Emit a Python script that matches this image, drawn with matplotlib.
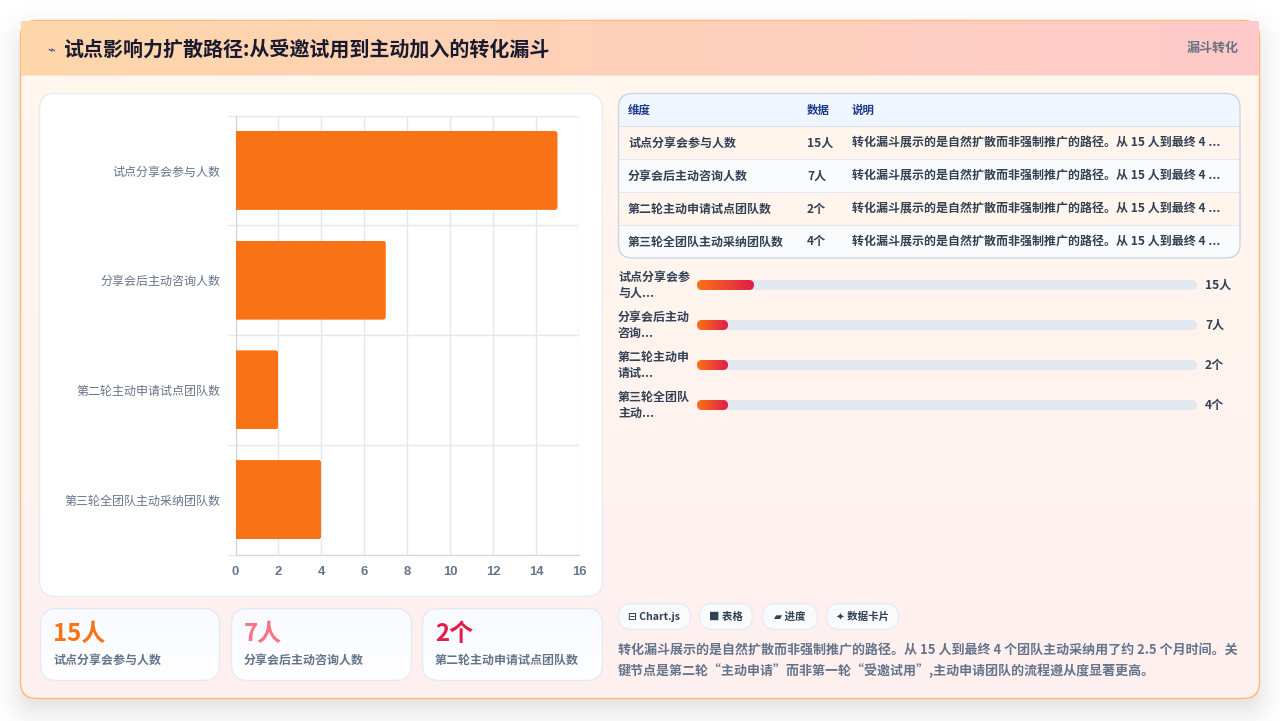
import numpy as np
import matplotlib
matplotlib.use('Agg')
import matplotlib.pyplot as plt
from matplotlib.colors import LinearSegmentedColormap
from matplotlib.patches import FancyBboxPatch, Rectangle

plt.rcParams['font.family'] = ['Noto Sans CJK SC', 'DejaVu Sans']

# Funnel data
categories = ['试点分享会参与人数', '分享会后主动咨询人数', '第二轮主动申请试点团队数', '第三轮全团队主动采纳团队数']
values = [15, 7, 2, 4]
units = ['人', '人', '个', '个']
progress_pct = [11.4, 6.2, 6.2, 6.2]
progress_labels = [('试点分享会参', '与人...'), ('分享会后主动', '咨询...'), ('第二轮主动申', '请试...'), ('第三轮全团队', '主动...')]
table_headers = ['维度', '数据', '说明']
table_note = '转化漏斗展示的是自然扩散而非强制推广的路径。从 15 人到最终 4 ...'
x_ticks = [0, 2, 4, 6, 8, 10, 12, 14, 16]
stat_colors = ['#f97316', '#fb7185', '#e11d48']
pills = ['⊟ Chart.js', '■ 表格', '▰ 进度', '✦ 数据卡片']
title = '试点影响力扩散路径:从受邀试用到主动加入的转化漏斗'
badge = '漏斗转化'
note_lines = ['转化漏斗展示的是自然扩散而非强制推广的路径。从 15 人到最终 4 个团队主动采纳用了约 2.5 个月时间。关',
              '键节点是第二轮“主动申请”而非第一轮“受邀试用”,主动申请团队的流程遵从度显著更高。']

W, H = 1280, 721
fig = plt.figure(figsize=(W / 100, H / 100), dpi=100, facecolor='white')


def px(size):
    # css pixels to points at dpi 100
    return size * 0.72


def ax_rect(x0, y0, x1, y1):
    return [x0 / W, 1 - y1 / H, (x1 - x0) / W, (y1 - y0) / H]


bg = fig.add_axes([0, 0, 1, 1], zorder=0)
bg.set_axis_off()


def round_box(x0, y0, x1, y1, r, face='none', edge='none', lw=1.0, z=2):
    box = FancyBboxPatch((x0, y0), x1 - x0, y1 - y0, boxstyle=f'round,pad=0,rounding_size={r}',
                         facecolor=face, edgecolor=edge, linewidth=lw, zorder=z)
    bg.add_patch(box)
    return box


def gradient(x0, y0, x1, y1, c0, c1, vertical=False, clip=None, z=2):
    cmap = LinearSegmentedColormap.from_list('g', [c0, c1])
    ramp = np.linspace(0, 1, 256)
    ramp = ramp.reshape(-1, 1) if vertical else ramp.reshape(1, -1)
    im = bg.imshow(ramp, cmap=cmap, extent=(x0, x1, y1, y0), aspect='auto', origin='upper', zorder=z)
    if clip is not None:
        im.set_clip_path(clip)
    return im


def label(x, y, s, size, color, weight='bold', ha='left', va='center', z=6):
    return bg.text(x, y, s, fontsize=px(size), color=color, fontweight=weight, ha=ha, va=va, zorder=z)


# Soft drop shadow under the card
yy, xx = np.mgrid[0:H, 0:W]
qx = np.abs(xx + 0.5 - 640) - (620 - 16)
qy = np.abs(yy + 0.5 - 371) - (339 - 16)
dist = np.hypot(np.maximum(qx, 0), np.maximum(qy, 0)) + np.minimum(np.maximum(qx, qy), 0) - 16
shade = np.clip(1 - (dist + 8) / 44, 0, 1) ** 2 * 0.10
rgba = np.zeros((H, W, 4))
rgba[..., 3] = shade
bg.imshow(rgba, extent=(0, W, H, 0), aspect='auto', zorder=1)

# Card body and header
card = round_box(20.5, 20.5, 1259.5, 698.5, 16, face='none', edge='none', z=2)
gradient(20, 20, 1260, 699, '#fff7ed', '#fff0f1', vertical=True, clip=card)
round_box(20.5, 20.5, 1259.5, 698.5, 16, edge='#fdba74', lw=1.0, z=3)
gradient(21, 21, 1259, 75, '#fed7aa', '#fecaca', z=4)
bg.add_patch(Rectangle((21, 75), 1238, 1, facecolor='#f5e3da', zorder=4))
label(47, 50, '⌁', 13, '#3f4a9a')
label(63, 49.5, title, 20, '#1a1a2e')
label(1239, 48, badge, 13, '#6b7280', ha='right')

# Chart panel
round_box(39.5, 93.5, 602.5, 596.5, 16, face='white', edge='#e8ecf2')

# Table panel
table_box = round_box(618, 93, 1240, 258, 14, face='#f8fafc', z=2)
row_top = [93, 126, 159, 192, 225]
row_bot = [126, 159, 192, 225, 258]
row_face = ['#eff6ff', '#fff5ec', '#f8fafc', '#fff5ec', '#f8fafc']
for top, bot, face in zip(row_top, row_bot, row_face):
    rect = Rectangle((618, top), 622, bot - top, facecolor=face, zorder=3)
    bg.add_patch(rect)
    rect.set_clip_path(table_box)
    if top > 93:
        line = Rectangle((618, top - 0.5), 622, 1, facecolor='#d5dfee' if top == 126 else '#e2e8f0', zorder=4)
        bg.add_patch(line)
round_box(618.5, 93.5, 1240, 258, 14, edge='#ccd5e3', lw=1.0, z=5)
col_x = [628, 807, 852]
for x, head in zip(col_x, table_headers):
    label(x, 110, head, 11.5, '#1e3a8a')
for i, (cat, val, unit) in enumerate(zip(categories, values, units)):
    y = 143 + 33 * i
    label(col_x[0], y, cat, 12, '#334155')
    label(col_x[1], y, f'{val}{unit}', 12, '#334155')
    label(col_x[2], y, table_note, 12, '#334155')

# Progress rows: label and value sit beside the track
for i, ((a, b), val, unit) in enumerate(zip(progress_labels, values, units)):
    y = 285 + 40 * i
    label(618, y - 7.5, a, 12, '#334155')
    label(618, y + 8.5, b, 12, '#334155')
    label(1205, y, f'{val}{unit}', 12, '#334155')

# Stat cards
stat_x = [(40, 220), (231, 412), (422, 603)]
for (x0, x1), cat, val, unit, color in zip(stat_x, categories, values, units, stat_colors):
    clip = round_box(x0 + 0.5, 608.5, x1 - 0.5, 680.5, 16, z=2)
    gradient(x0, 608, x1, 681, '#f8faff', '#ffffff', vertical=True, clip=clip)
    round_box(x0 + 0.5, 608.5, x1 - 0.5, 680.5, 16, edge='#e4e9f5', lw=1.0, z=3)
    label(x0 + 13, 634, f'{val}{unit}', 24, color)
    label(x0 + 13, 660.5, cat, 12, '#64748b')

# Tag pills
pill_x = [(618, 691), (699, 753), (762, 818), (826, 899)]
for (x0, x1), text in zip(pill_x, pills):
    round_box(x0 + 0.5, 603.5, x1 - 0.5, 629.5, 13, face='#f8fafc', edge='#e8ecf2')
    label((x0 + x1) / 2, 617, text, 10.5, '#334155', ha='center')

# Closing note
label(618, 651, note_lines[0], 13, '#64748b')
label(618, 671, note_lines[1], 13, '#64748b')

bg.set_xlim(0, W)
bg.set_ylim(H, 0)

# Horizontal funnel bars
ax = fig.add_axes(ax_rect(235.5, 115.5, 579, 554.5), zorder=2)
ax.patch.set_alpha(0)
y_pos = np.arange(len(categories))
bars = ax.barh(y_pos, values, height=0.72, color='#f97316', zorder=3)
ax.set_xlim(0, 16)
ax.set_ylim(3.5, -0.5)
ax.set_xticks(x_ticks)
ax.set_yticks(y_pos, categories)
ax.set_yticks(np.arange(-0.5, 4), minor=True)
ax.grid(True, which='major', axis='x', color='#e2e8f0', linewidth=1, zorder=0)
ax.grid(True, which='minor', axis='y', color='#e2e8f0', linewidth=1, zorder=0)
ax.set_axisbelow(True)
ax.tick_params(axis='y', which='major', length=0, pad=11, labelsize=px(12), labelcolor='#64748b')
ax.tick_params(axis='y', which='minor', length=6, width=1, color='#e2e8f0')
ax.tick_params(axis='x', length=0, pad=8)
for tick in ax.get_xticklabels():
    tick.set_fontfamily('Liberation Sans')
    tick.set_fontweight('bold')
    tick.set_fontsize(px(13))
    tick.set_color('#64748b')
for side in ['top', 'right']:
    ax.spines[side].set_visible(False)
for side in ['left', 'bottom']:
    ax.spines[side].set_color('#cbd5e1')

# Only the far end of each bar is rounded
unit_x = (579 - 235.5) / 16
unit_y = 439 / 4
for bar in bars:
    end = bar.get_width()
    shape = FancyBboxPatch((-1, bar.get_y()), end + 1, bar.get_height(),
                           boxstyle=f'round,pad=0,rounding_size={3 / unit_x}',
                           mutation_aspect=unit_x / unit_y, transform=ax.transData)
    bar.set_clip_path(shape)

# Progress tracks with a gradient fill
prog = fig.add_axes(ax_rect(697, 265, 1197, 425), zorder=2)
prog.set_axis_off()
fill_map = LinearSegmentedColormap.from_list('fill', ['#f97316', '#e11d48'])
aspect = 5 / 40
for i, pct in enumerate(progress_pct):
    track = FancyBboxPatch((0, i - 0.125), 100, 0.25, boxstyle='round,pad=0,rounding_size=1',
                           mutation_aspect=aspect, facecolor='#e2e8f0', edgecolor='none', zorder=1)
    prog.add_patch(track)
    shape = FancyBboxPatch((0, i - 0.125), pct, 0.25, boxstyle='round,pad=0,rounding_size=1',
                           mutation_aspect=aspect, facecolor='none', edgecolor='none', zorder=2)
    prog.add_patch(shape)
    im = prog.imshow(np.linspace(0, 1, 64).reshape(1, -1), cmap=fill_map, aspect='auto',
                     extent=(0, pct, i + 0.125, i - 0.125), zorder=2)
    im.set_clip_path(shape)
prog.set_xlim(0, 100)
prog.set_ylim(3.5, -0.5)

fig.savefig('out.png', dpi=100)
